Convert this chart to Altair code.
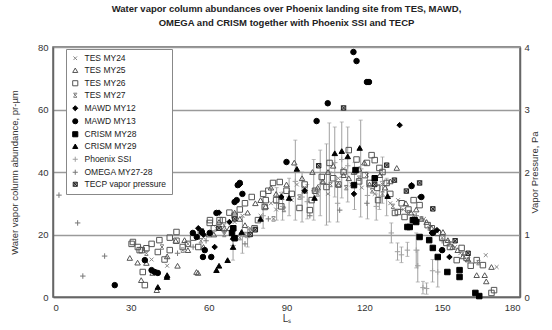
import altair as alt
import pandas as pd

SERIES = ["TES MY24", "TES MY25", "TES MY26", "TES MY27", "MAWD MY12", "MAWD MY13",
          "CRISM MY28", "CRISM MY29", "Phoenix SSI", "OMEGA MY27-28", "TECP vapor pressure"]

tes24_ls = [38, 44, 52, 58, 63, 66, 70, 73, 76, 80, 84, 86, 88, 92, 94, 97, 101, 104, 106, 110, 112, 115, 119, 121,
            124, 127, 130, 133, 135, 139, 143, 145, 148, 150, 155, 157, 160, 166.8, 171]
tes24_v = [12, 10, 17, 19, 22, 23, 24, 26, 22, 26, 30, 28, 33, 31, 36, 35, 34, 37, 33, 38, 41, 36, 35, 39,
           33, 36, 30, 31, 28, 26, 25, 22, 21, 19, 16, 14, 12, 13.4, 9.6]

tes25_ls = [29.6, 32.6, 34, 36, 38.4, 40, 44, 47.3, 50.7, 48, 52, 55.3, 55.9, 58, 60, 62, 64, 66, 68, 70, 72, 74, 75,
            78, 80, 82, 84, 86, 88, 90, 93, 96, 97, 100, 102, 104, 106, 108, 110, 112, 114, 116, 118, 120, 122, 124,
            126, 128, 130, 132.5, 136, 138, 140, 142, 144, 146, 150.3, 152.2, 154, 156, 158, 160, 163.3, 166.4, 169, 167]
tes25_v = [12.5, 11, 5.4, 10.9, 7.7, 2.2, 13, 18, 18.2, 10, 15, 8, 7.7, 16, 20, 20, 24, 22, 22, 27, 25, 23, 27,
           30, 31, 29, 35, 33, 32, 36, 43, 38, 34, 40, 35, 37, 40, 42, 36, 39, 38, 40, 41, 43, 36, 38,
           39, 35, 37, 41.3, 30, 27, 28, 25, 24, 22, 20.8, 18.2, 16, 15, 13, 12, 7, 7, 9.6, 5]

tes26_ls = [30.3, 30.8, 32.7, 33.4, 34.2, 34.6, 35.4, 36, 38, 41, 40.4, 43, 45, 45, 47.6, 47.6, 50, 52, 54, 56, 57,
            60.4, 60.5, 62, 64.2, 65.5, 68, 70, 72, 74, 76.6, 77.7, 79, 81, 81.6, 82, 83, 84.8, 86, 87.4, 88, 90,
            92, 95, 97, 99, 99.7, 101, 103.6, 105.4, 106.6, 108, 110, 112, 114, 117, 118, 120.2, 121, 122, 122.8,
            124, 125, 125.3, 125.8, 127, 128.6, 130, 131.8, 132.9, 134.4, 135.5, 137, 139, 141.3, 144.4, 146,
            148.3, 150, 151.6, 153, 155.6, 157.5, 159.4, 161, 163.3, 165.7, 169, 170]
tes26_v = [17, 17.6, 16, 15, 15, 8, 3.8, 15.6, 17, 18.2, 14.4, 12, 15, 19, 20.8, 18, 16, 17, 19, 16, 21,
           23.7, 24.6, 22, 24.6, 24.6, 27, 26, 28, 30, 32, 22, 24.6, 33, 28.8, 31, 34, 36.5, 31, 36.8, 29, 34,
           33, 28.5, 36, 27.8, 31, 34, 38.4, 35.2, 42.9, 38, 36, 40, 47, 44, 37, 39, 42.9, 36.5, 45.4,
           43.8, 34.9, 31, 41.3, 40, 36.5, 33, 26.9, 27.2, 30, 25.6, 28, 31, 29.4, 23, 22,
           20.5, 19, 17.3, 16, 11.8, 15.7, 12.5, 10, 11.8, 10.2, 1.3, 2.2]

tes27_ls = [36, 42, 50, 57, 66, 72, 74, 76, 78, 85, 89, 95, 102, 107, 113, 118, 123, 127, 131, 137, 142, 147, 153, 158, 164]
tes27_v = [14, 16, 15, 18, 20, 19, 20, 21, 22, 25, 28, 32, 33, 36, 35, 38, 34, 33, 29, 27, 25, 21, 17, 14, 11]

mawd12_ls = [56, 58, 62.3, 64, 68, 72, 88, 97, 116, 133.6, 138.2, 141.6, 146, 148, 149.8, 152.8]
mawd12_v = [22, 20, 16, 27, 24, 36, 32, 34, 33, 55, 35.8, 32, 20.5, 21.4, 15, 12.8]

mawd13_ls = [23.8, 35.4, 38, 39.2, 40.4, 53.9, 55.4, 57.4, 57.8, 58.5, 60.4, 61, 63, 70, 70.8, 71.2, 72, 73, 90,
             101.6, 105.9, 115.8, 117, 121, 121.8, 138.2, 142, 146.4, 150]
mawd13_v = [3.8, 11.8, 8.6, 8, 7.7, 20.5, 19.2, 20.8, 12.8, 15, 20.5, 12.8, 26.9, 30.4, 31, 35.8, 36.5, 33, 43.2,
            56.3, 62, 78.4, 75.5, 68.8, 68.8, 35.5, 32, 20.5, 15]

crism28_ls = [69, 69.5, 70, 116, 116.6, 124, 136.6, 137.5, 138.7, 139.4, 140, 141.3, 145, 146.4, 148.3, 152, 156.7, 156.7, 162.8, 164.3]
crism28_v = [20.5, 22, 18.8, 35.8, 40.6, 38, 22.4, 22.4, 24.6, 24.6, 24, 19.2, 18.2, 15.7, 12.8, 8, 6.4, 8.6, 1.3, 0.3]

crism29_ls = [40.4, 43.9, 44, 63, 64, 67.3, 69.4, 69.4, 72.7, 80, 91, 94, 100.8, 108.6, 111.3, 113.6, 118.2, 129]
crism29_v = [3.2, 6.4, 7, 8.6, 10, 11.8, 19.2, 16, 20.8, 25, 31.7, 41, 31.7, 46, 46.7, 45, 47.7, 32.3]

ssi_ls = [69.4, 73, 75, 81, 86.2, 88.5, 91, 93.4, 96, 98, 100.5, 103, 105.4, 106.5, 108.6, 109.7, 111.3, 113.6,
          116.2, 118.6, 121.2, 124.6, 125.8, 127, 128.6, 130.4, 132.8, 134.3, 136.6, 140, 140.6, 142.6, 144, 146.3, 148.3]
ssi_v = [16.5, 20, 19, 26, 30, 29, 32, 37, 32, 30.5, 34, 36, 36, 40, 43, 30, 44, 42,
         35.5, 41, 32.5, 29, 32, 37, 32, 20.5, 14.5, 13.5, 15, 15, 10, 3, 2.7, 8.4, 8]
ssi_lo = [11.8, 14, 16, 22, 24.6, 24.6, 26, 24.6, 24, 25, 24.6, 26, 23, 24, 32, 24, 31.7, 30.4,
          28, 25.6, 25, 24.6, 28, 30, 26, 17.3, 11.8, 11, 13, 9.3, 4.8, 1, 0.9, 4.8, 3.2]
ssi_hi = [21.4, 25.6, 22, 30, 35, 33.6, 38, 50.2, 40, 36, 44, 47, 49, 55.7, 54.4, 36, 56, 54.4,
          43, 56.6, 40, 33, 36, 44.8, 38, 23.7, 17.3, 16, 17.5, 20.5, 15, 5, 4.5, 12, 12.8]

omega_ls = [2.3, 9.5, 11.5, 19.9, 48, 54, 59, 66, 74, 83, 99, 110.5, 121, 134, 140, 150]
omega_v = [32.6, 23.7, 6.7, 13.1, 14, 16, 18, 21, 17, 25, 26, 27.8, 30, 28, 26, 18]

tecp_ls = [64, 70, 76, 78, 102.4, 112, 124, 128.6, 131.6, 136.2, 141.3, 146.4, 155, 160]
tecp_v = [22, 25, 20, 21.5, 42, 60.5, 36, 42.2, 37.4, 33.9, 36.5, 28.2, 18, 14]

pressure_ticks = [0, 1, 2, 3, 4]
x_ticks = [0, 30, 60, 90, 120, 150, 180]
y_ticks = [0, 20, 40, 60, 80]

XMARK = "M-0.7,-0.7L0.7,0.7M-0.7,0.7L0.7,-0.7"
STAR = "M-0.6,-0.6L0.6,0.6M-0.6,0.6L0.6,-0.6M-0.7,-0.8L0.7,-0.8M-0.7,0.8L0.7,0.8"
PLUS = "M-1,0L1,0M0,-1L0,1"
BOXX = "M-0.8,-0.8L0.8,-0.8L0.8,0.8L-0.8,0.8ZM-0.8,-0.8L0.8,0.8M-0.8,0.8L0.8,-0.8"
SHAPES = [XMARK, "triangle-up", "square", STAR, "diamond", "circle", "square", "triangle-up", PLUS, PLUS, BOXX]
STROKES = ["#888888", "#555555", "#555555", "#777777", "#000000", "#000000", "#000000", "#000000",
           "#a0a0a0", "#777777", "#222222"]
FILLS = ["transparent", "transparent", "transparent", "transparent", "#000000", "#000000", "#000000", "#000000",
         "transparent", "transparent", "#bbbbbb"]

groups = [
    ("Phoenix SSI", ssi_ls, ssi_v), ("OMEGA MY27-28", omega_ls, omega_v),
    ("TES MY24", tes24_ls, tes24_v), ("TES MY25", tes25_ls, tes25_v), ("TES MY26", tes26_ls, tes26_v),
    ("TES MY27", tes27_ls, tes27_v), ("TECP vapor pressure", tecp_ls, tecp_v),
    ("MAWD MY12", mawd12_ls, mawd12_v), ("MAWD MY13", mawd13_ls, mawd13_v),
    ("CRISM MY28", crism28_ls, crism28_v), ("CRISM MY29", crism29_ls, crism29_v),
]
rows = []
for name, xs, ys in groups:
    for a, b in zip(xs, ys):
        rows.append({"series": name, "ls": a, "v": b})
df = pd.DataFrame(rows)
err = pd.DataFrame({"ls": ssi_ls, "lo": ssi_lo, "hi": ssi_hi})
press = pd.DataFrame({"p": [pressure_ticks[0], pressure_ticks[-1]]})

FONT = "Liberation Sans"
xscale = alt.Scale(domain=[0, 180], nice=False)
yscale = alt.Scale(domain=[0, 80], nice=False)

xaxis = alt.Axis(values=x_ticks, title="Lₛ", grid=False, ticks=False, labelPadding=5, titlePadding=2,
                 labelFontSize=9.5, titleFontSize=10, titleFontWeight="normal", labelColor="#333",
                 titleColor="#333", domainColor="#666", domainWidth=1.5, labelFont=FONT, titleFont=FONT)
yaxis = alt.Axis(values=y_ticks, title="Water vapor column abundance, pr-µm", grid=True, gridColor="#9a9a9a",
                 gridWidth=1.5, ticks=False, labelPadding=5, titlePadding=18, labelFontSize=9.5,
                 titleFontSize=9.5, titleFontWeight="normal", labelColor="#333", titleColor="#333",
                 domainColor="#666", domainWidth=1.5, labelFont=FONT, titleFont=FONT)

legend = alt.Legend(title=None, orient="none", legendX=13, legendY=2, strokeColor="#888", fillColor="white",
                    padding=5, labelFontSize=8.5, labelFont=FONT, labelColor="#222", symbolSize=26,
                    symbolStrokeWidth=1, rowPadding=3, labelOffset=5)

errbars = alt.Chart(err).mark_rule(color="#a0a0a0", strokeWidth=1).encode(
    x=alt.X("ls:Q", scale=xscale, axis=xaxis),
    y=alt.Y("lo:Q", scale=yscale, axis=yaxis),
    y2="hi:Q",
)
cap_lo = alt.Chart(err).mark_tick(orient="horizontal", size=4, thickness=1, color="#a0a0a0").encode(
    x=alt.X("ls:Q", scale=xscale), y=alt.Y("lo:Q", scale=yscale))
cap_hi = alt.Chart(err).mark_tick(orient="horizontal", size=4, thickness=1, color="#a0a0a0").encode(
    x=alt.X("ls:Q", scale=xscale), y=alt.Y("hi:Q", scale=yscale))

points = alt.Chart(df).mark_point(size=30, strokeWidth=1, opacity=1).encode(
    x=alt.X("ls:Q", scale=xscale),
    y=alt.Y("v:Q", scale=yscale),
    shape=alt.Shape("series:N", scale=alt.Scale(domain=SERIES, range=SHAPES), legend=legend),
    stroke=alt.Stroke("series:N", scale=alt.Scale(domain=SERIES, range=STROKES), legend=legend),
    fill=alt.Fill("series:N", scale=alt.Scale(domain=SERIES, range=FILLS), legend=legend),
)

left = alt.layer(errbars, cap_lo, cap_hi, points)

right = alt.Chart(press).mark_point(opacity=0).encode(
    x=alt.value(0),
    y=alt.Y("p:Q", scale=alt.Scale(domain=[0, 4], nice=False),
            axis=alt.Axis(orient="right", values=pressure_ticks, title="Vapor Pressure, Pa", titleAngle=270,
                          grid=False, ticks=False, labelPadding=4, titlePadding=10, labelFontSize=9.5,
                          titleFontSize=9.5, titleFontWeight="normal", labelColor="#333", titleColor="#333",
                          domainColor="#666", domainWidth=1.5, labelFont=FONT, titleFont=FONT)),
)

chart = alt.layer(left, right).resolve_scale(y="independent").properties(
    width=467, height=250,
    padding={"left": 53, "top": 47, "right": 32, "bottom": 33},
    autosize=alt.AutoSizeParams(type="none"),
    title=alt.TitleParams(
        ["Water vapor column abundances over Phoenix landing site from TES, MAWD,",
         "OMEGA and CRISM together with Phoenix SSI and TECP"],
        fontSize=9.5, fontWeight="bold", font=FONT, color="#222", offset=15, lineHeight=14),
).configure_view(stroke="#666", strokeWidth=1.5)

chart.save("out.html", embed_options={"renderer": "svg", "actions": False})
